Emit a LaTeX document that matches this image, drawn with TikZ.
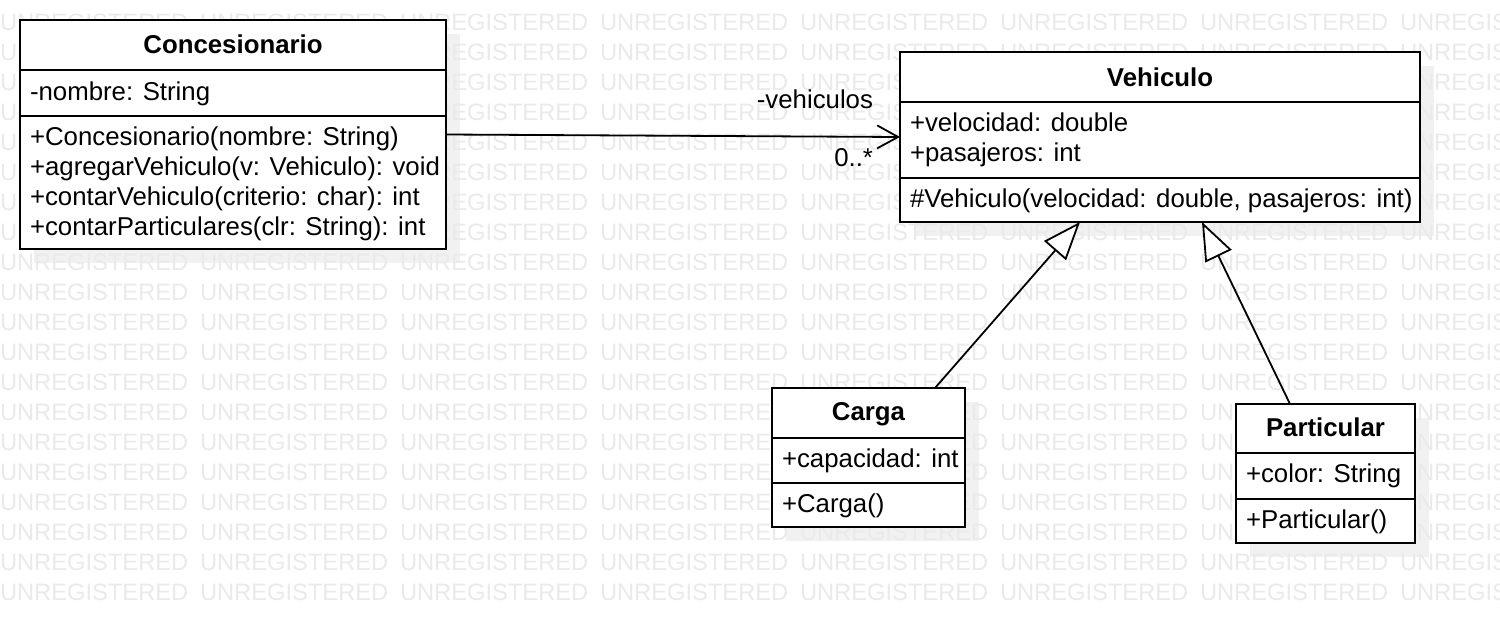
\documentclass[tikz,border=0pt]{standalone}
\usepackage{fontspec}
\setmainfont{Liberation Sans}
\usetikzlibrary{arrows.meta,calc}
\definecolor{wmcol}{RGB}{234,234,234}
\definecolor{shcol}{RGB}{241,241,241}
\tikzset{
  umlbox/.style={draw=black, fill=white, line width=2pt, outer sep=0pt, inner sep=0pt, anchor=north west},
  sepline/.style={draw=black, line width=2pt},
  txt/.style={inner sep=0pt, outer sep=0pt, anchor=base west, font=\fontsize{25.8}{30}\selectfont},
  ttl/.style={inner sep=0pt, outer sep=0pt, anchor=base, font=\fontsize{25.8}{30}\selectfont\bfseries},
  wm/.style={inner sep=0pt, outer sep=0pt, anchor=base west, text=wmcol, font=\fontsize{23.7}{28}\selectfont},
  assoc/.style={draw=black, line width=1.8pt, -{Straight Barb[length=21pt,width=23pt]}},
  gen/.style={draw=black, line width=1.8pt, -{Triangle[length=38pt,width=29pt,fill=white]}},
}
\begin{document}
\begin{tikzpicture}[x=1pt,y=-1pt]
\useasboundingbox (0,0) rectangle (1500,624);
\fill[white] (0,0) rectangle (1500,624);
% shadows
\fill[shcol] (34,34) rectangle (460,263);
\fill[shcol] (914,66) rectangle (1434,236);
\fill[shcol] (786,402) rectangle (979,541);
\fill[shcol] (1250,418) rectangle (1429,557);
% watermark
\begin{scope}
\clip (0,0) rectangle (1500,624);
\foreach \r in {0,...,19} {
  \foreach \c in {0,...,7} {
    \node[wm] (wm-\r-\c) at (\c*200, 30+\r*30) {UNREGISTERED};
  }
}
\end{scope}
% Concesionario
\node[umlbox, minimum width=426pt, minimum height=229pt] (conc) at (20,20) {};
\draw[sepline] ([yshift=-50pt]conc.north west) -- ([yshift=-50pt]conc.north east);
\draw[sepline] ([yshift=-96pt]conc.north west) -- ([yshift=-96pt]conc.north east);
\node[ttl] (concT) at (233,53) {Concesionario};
\node[txt] (concA) at (30,100) {-nombre: String};
\node[txt] (concM1) at (30,145) {+Concesionario(nombre: String)};
\node[txt] (concM2) at (30,175) {+agregarVehiculo(v: Vehiculo): void};
\node[txt] (concM3) at (30,205) {+contarVehiculo(criterio: char): int};
\node[txt] (concM4) at (30,235) {+contarParticulares(clr: String): int};
% Vehiculo
\node[umlbox, minimum width=520pt, minimum height=170pt] (veh) at (900,52) {};
\draw[sepline] ([yshift=-50pt]veh.north west) -- ([yshift=-50pt]veh.north east);
\draw[sepline] ([yshift=-126pt]veh.north west) -- ([yshift=-126pt]veh.north east);
\node[ttl] (vehT) at (1160,86) {Vehiculo};
\node[txt] (vehA1) at (910,131) {+velocidad: double};
\node[txt] (vehA2) at (910,161) {+pasajeros: int};
\node[txt] (vehM1) at (910,207) {\#Vehiculo(velocidad: double, pasajeros: int)};
% Carga
\node[umlbox, minimum width=193pt, minimum height=139pt] (carga) at (772,388) {};
\draw[sepline] ([yshift=-50pt]carga.north west) -- ([yshift=-50pt]carga.north east);
\draw[sepline] ([yshift=-95pt]carga.north west) -- ([yshift=-95pt]carga.north east);
\node[ttl] (cargaT) at (868.5,420) {Carga};
\node[txt] (cargaA) at (782,467) {+capacidad: int};
\node[txt] (cargaM) at (782,512) {+Carga()};
% Particular
\node[umlbox, minimum width=179pt, minimum height=139pt] (part) at (1236,404) {};
\draw[sepline] ([yshift=-49pt]part.north west) -- ([yshift=-49pt]part.north east);
\draw[sepline] ([yshift=-95pt]part.north west) -- ([yshift=-95pt]part.north east);
\node[ttl] (partT) at (1325.5,436) {Particular};
\node[txt] (partA) at (1246,482) {+color: String};
\node[txt] (partM) at (1246,528) {+Particular()};
% connectors
\draw[assoc] (conc.east) -- (veh.west);
\node[txt, anchor=base east] (roleL) at (873,108) {-vehiculos};
\node[txt, anchor=base east] (multL) at (873,166) {0..*};
\draw[gen] ([xshift=66.5pt]carga.north) -- ([xshift=-80pt]veh.south);
\draw[gen] ([xshift=-35.5pt]part.north) -- ([xshift=42pt]veh.south);
\end{tikzpicture}
\end{document}
